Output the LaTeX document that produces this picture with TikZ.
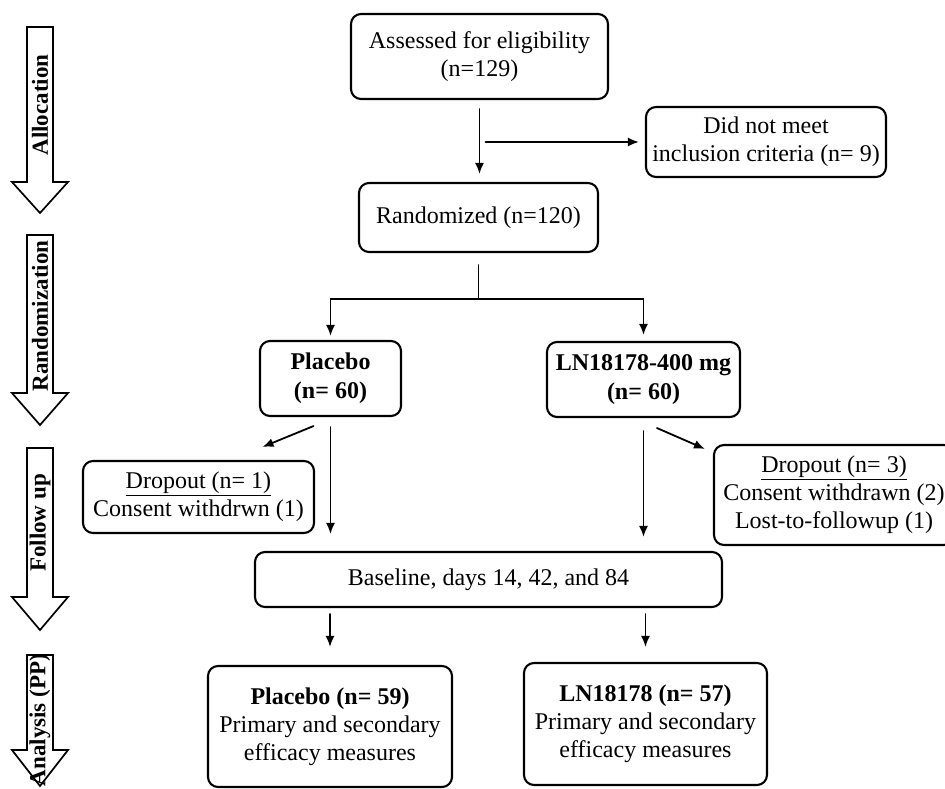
\documentclass[tikz,border=0pt]{standalone}
\usepackage{fontspec}
\setmainfont{Liberation Serif}
\usetikzlibrary{arrows.meta}

\begin{document}
\begin{tikzpicture}[x=1pt,y=-1pt,line cap=round,
	box/.style={draw,line width=2.1pt,rounded corners=10pt,align=center,inner sep=0pt,font=\fontsize{24}{28}\selectfont},
	arr/.style={line width=1.8pt,-{Latex[length=11pt,width=9pt]}},
	ln/.style={line width=1.8pt}]
			\useasboundingbox (0,0) rectangle (945,788);
			\foreach \ya/\yb/\yc/\yl/\lab [count=\i] in {27/182/213/105/Allocation,235/393/425/316/Randomization,448/597/630/523/Follow up,655/750/786/720/Analysis (PP)} {
				\draw[line width=1.7pt,line join=miter,fill=white] (27,\ya) -- (53,\ya) -- (53,\yb) -- (68,\yb) -- (40,\yc) -- (12,\yb) -- (27,\yb) -- cycle;
				\node[rotate=90,inner sep=0pt,font=\bfseries\fontsize{23}{24}\selectfont] (stage\i) at (40,\yl) {\lab};
			}
			\node[box,minimum width=257pt,minimum height=85pt] (assess) at (479.5,56.5) {Assessed for eligibility\\(n=129)};
			\node[box,minimum width=240pt,minimum height=70pt] (excl) at (766,142) {Did not meet\\inclusion criteria (n= 9)};
			\node[box,minimum width=239pt,minimum height=69pt] (rand) at (478.5,217.5) {Randomized (n=120)};
			\node[box,minimum width=141pt,minimum height=75pt,font=\bfseries\fontsize{24}{29}\selectfont] (plac) at (330.5,378.5) {Placebo\\(n= 60)};
			\node[box,minimum width=193pt,minimum height=75pt,font=\bfseries\fontsize{24}{29}\selectfont] (drug) at (643.5,379.5) {LN18178-400 mg\\(n= 60)};
			\node[box,minimum width=231pt,minimum height=72pt] (dropL) at (198.5,497) {\underline{Dropout (n= 1)}\\Consent withdrwn (1)};
			\node[box,minimum width=240pt,minimum height=100pt] (dropR) at (834,495) {\underline{Dropout (n= 3)}\\Consent withdrawn (2)\\Lost-to-followup (1)};
			\node[box,minimum width=467pt,minimum height=55pt] (base) at (488.5,579.5) {Baseline, days 14, 42, and 84};
			\node[box,minimum width=244pt,minimum height=121pt] (resP) at (330,726.5) {\textbf{Placebo (n= 59)}\\Primary and secondary\\efficacy measures};
			\node[box,minimum width=243pt,minimum height=122pt] (resD) at (645.5,724) {\textbf{LN18178 (n= 57)}\\Primary and secondary\\efficacy measures};
			\coordinate (fork) at (assess |- excl);
			\coordinate (split) at ([yshift=-46pt]rand.south);
			\draw[arr,shorten <=9pt,shorten >=8pt] (assess) -- (assess |- rand.north);
			\draw[arr,shorten <=6pt,shorten >=6pt] (fork) -- (excl);
			\draw[ln,shorten <=12pt] (rand.south) -- (split);
			\draw[arr,shorten >=4pt] (split) -| (plac.north);
			\draw[arr,shorten >=6pt] (split) -| (drug.north);
			\draw[arr] ([shift={(-17pt,-9pt)}]plac.south) -- ([shift={(64pt,13pt)}]dropL.north);
			\draw[arr] ([shift={(13.5pt,-10pt)}]drug.south) -- ([shift={(-8pt,-5pt)}]dropR.north west);
			\draw[arr,shorten <=10pt,shorten >=17pt] (plac) -- (plac |- base.north);
			\draw[arr,shorten <=13pt,shorten >=14pt] (drug) -- (drug |- base.north);
			\draw[arr,shorten <=6pt,shorten >=18pt] (base.south -| resP) -- (resP);
			\draw[arr,shorten <=6pt,shorten >=15pt] (base.south -| resD) -- (resD);
	\end{tikzpicture}
\end{document}
